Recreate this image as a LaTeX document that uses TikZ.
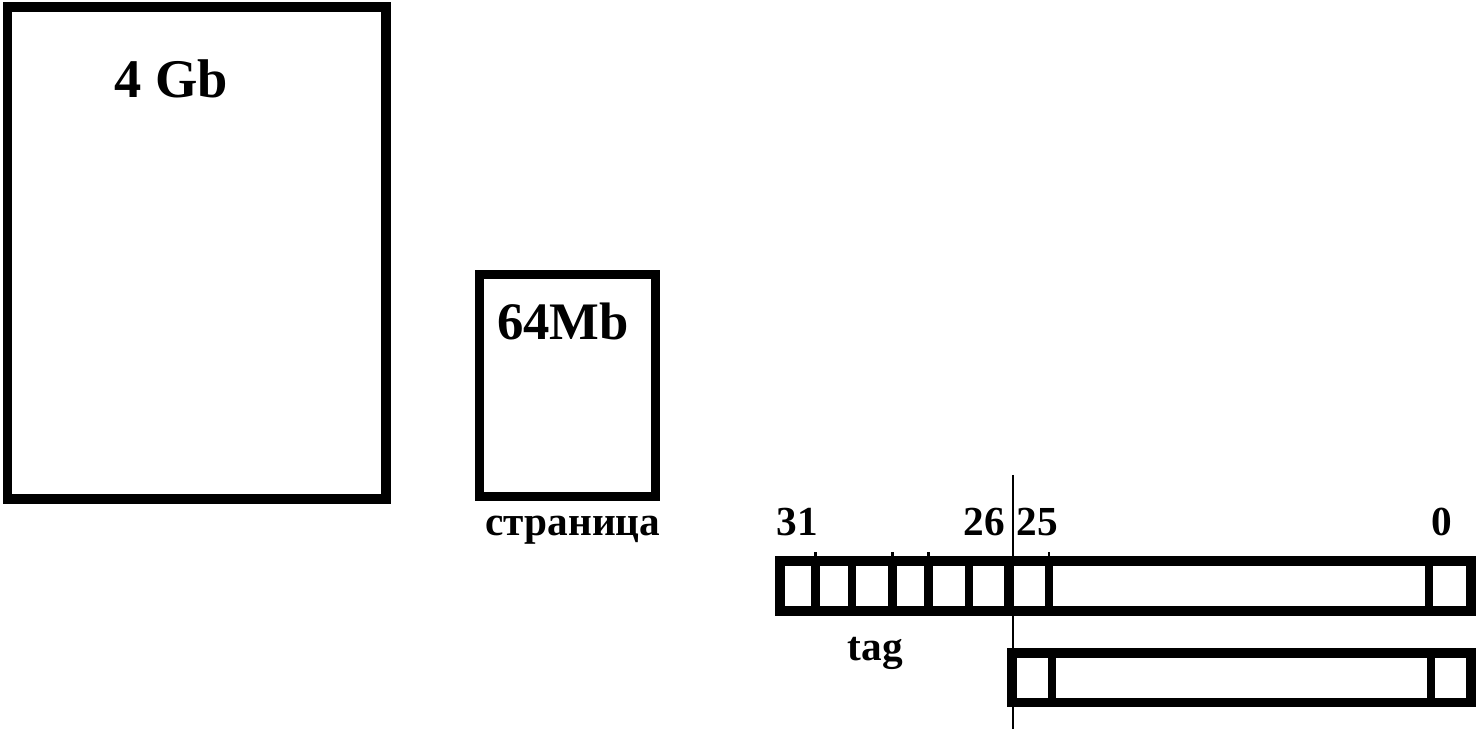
\documentclass[tikz,border=0pt]{standalone}
\usepackage{fontspec}
\setmainfont{Liberation Serif}
\usepackage{tikz}
\usetikzlibrary{positioning}

\tikzset{
    frame/.style={draw, line width=9.5pt*0.567},
    cellsep/.style={draw, line width=9pt*0.567},
    tick/.style={draw, line width=1.5pt},
    marker/.style={draw, line width=1.2pt},
    bigtext/.style={font=\bfseries\fontsize{31}{37}\selectfont, inner sep=0pt, anchor=base},
    smalltext/.style={font=\bfseries\fontsize{23.5}{28}\selectfont, inner sep=0pt, anchor=base},
}

\begin{document}
\begin{tikzpicture}[x=0.02cm, y=-0.02cm]
    \useasboundingbox (0,0) rectangle (1478,729);

    % memory
    \draw[frame] (7.5,7) rectangle (386,499);
    \node[bigtext] (mem) at (171,98) {4 Gb};

    % page
    \draw[frame] (479.5,274.5) rectangle (655.5,496.5);
    \node[bigtext, font=\bfseries\fontsize{30}{36}\selectfont] (page) at (563,340) {64Mb};
    \node[smalltext] (pagename) at (573,536) {страница};

    % address
    \draw[frame] (780,561) rectangle (1471,611);
    \foreach \x in {815.5, 852, 892.5, 928.5, 969, 1008.5, 1049, 1429}
        \draw[cellsep] (\x,561) -- (\x,611);
    \foreach \x in {815.5, 892.5, 928.5, 1049}
        \draw[tick] (\x,552) -- (\x,561);

    % offset
    \draw[frame] (1012,653) rectangle (1471,702.5);
    \foreach \x in {1052, 1431}
        \draw[cellsep] (\x,653) -- (\x,702.5);

    \coordinate (cuttop) at (1013,475);
    \coordinate (cutbot) at (1013,729);
    \draw[marker] (cuttop) -- (cutbot);

    \node[smalltext] (b31) at (797.5,536) {31};
    \node[smalltext] (b26) at (984,536) {26};
    \node[smalltext] (b25) at (1037.5,536) {25};
    \node[smalltext] (b0) at (1442,536) {0};
    \node[smalltext] (tag) at (875.5,660) {tag};
\end{tikzpicture}
\end{document}
